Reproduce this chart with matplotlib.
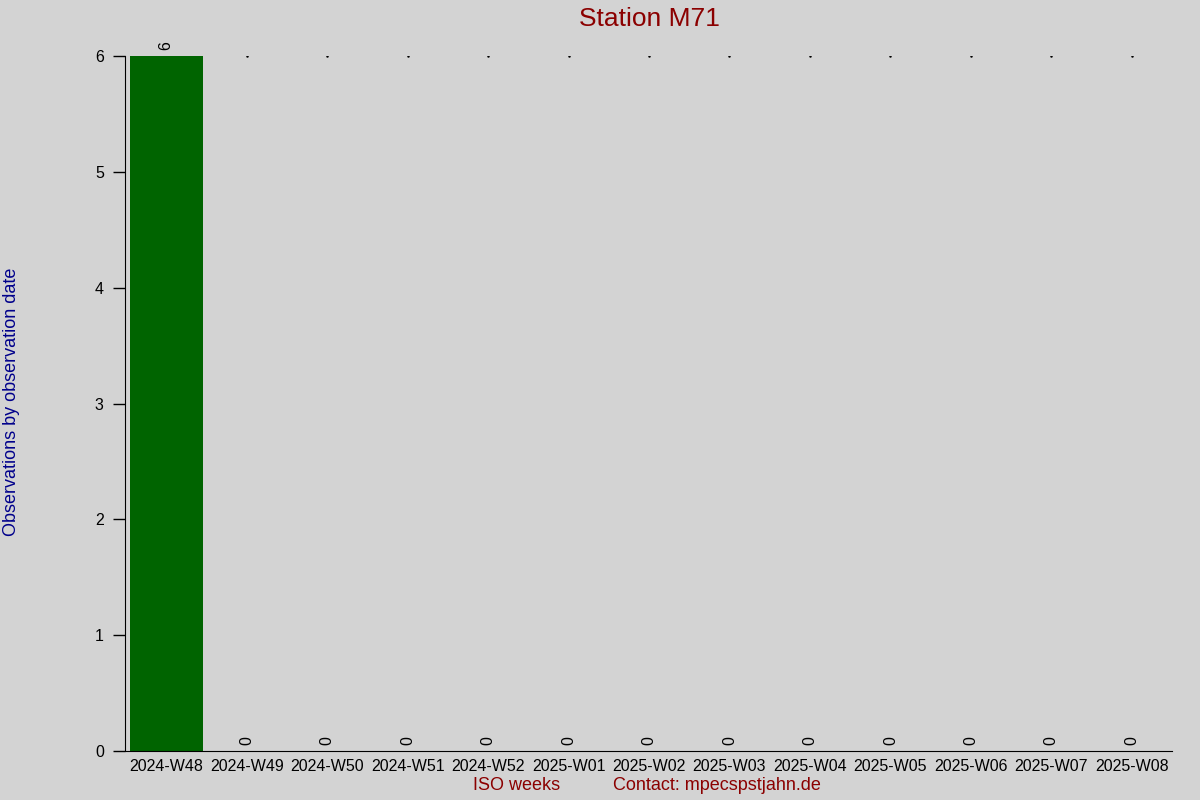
import numpy as np
import matplotlib
matplotlib.use("Agg")
import matplotlib.pyplot as plt

plt.rcParams['font.family'] = ['Liberation Sans', 'DejaVu Sans']

# Data
weeks = [
    '2024-W48', '2024-W49', '2024-W50', '2024-W51', '2024-W52', '2025-W01',
    '2025-W02', '2025-W03', '2025-W04', '2025-W05', '2025-W06', '2025-W07', '2025-W08'
]
counts = [6, 0, 0, 0, 0, 0, 0, 0, 0, 0, 0, 0, 0]

BG = '#d3d3d3'
x = np.arange(len(weeks))

fig = plt.figure(figsize=(12, 8), dpi=100, facecolor=BG)
ax = fig.add_axes([126 / 1200, 49 / 800, (1172 - 126) / 1200, (751 - 56) / 800])
ax.set_facecolor(BG)

ax.bar(x, counts, width=0.905, color='#006400')

# small marks at the top for empty weeks
ymax = max(counts)
empty = [i for i, c in enumerate(counts) if c == 0]
ax.scatter(empty, [ymax] * len(empty), s=0.6, color='black', zorder=3)

for xi, c in zip(x, counts):
    ax.annotate(str(c), (xi, c), xytext=(0, 4), textcoords='offset points',
                ha='center', va='bottom', rotation=90, fontsize=11.5)

ax.set_xlim(-0.5, len(weeks) - 0.5)
ax.set_ylim(0, ymax)
ax.set_xticks(x)
ax.set_xticklabels(weeks, fontsize=11.5)
ax.tick_params(axis='x', length=0, pad=6)
ax.tick_params(axis='y', length=9, width=1, labelsize=11.5, pad=6)

for side in ['top', 'right']:
    ax.spines[side].set_visible(False)
ax.spines['left'].set_position(('outward', 1))

fig.text(649 / 1200, 1 - 19 / 800, 'Station M71', color='#8b0000', fontsize=19,
         ha='center', va='center')
fig.text(12 / 1200, 1 - 402 / 800, 'Observations by observation date', color='#00008b',
         fontsize=13, rotation=90, ha='center', va='center')
fig.text(517 / 1200, 1 - 786 / 800, 'ISO weeks', color='#8b0000', fontsize=13,
         ha='center', va='center')
fig.text(613 / 1200, 1 - 786 / 800, 'Contact: mpecspstjahn.de', color='#8b0000',
         fontsize=13, ha='left', va='center')

fig.savefig('out.png', dpi=100, facecolor=BG)
